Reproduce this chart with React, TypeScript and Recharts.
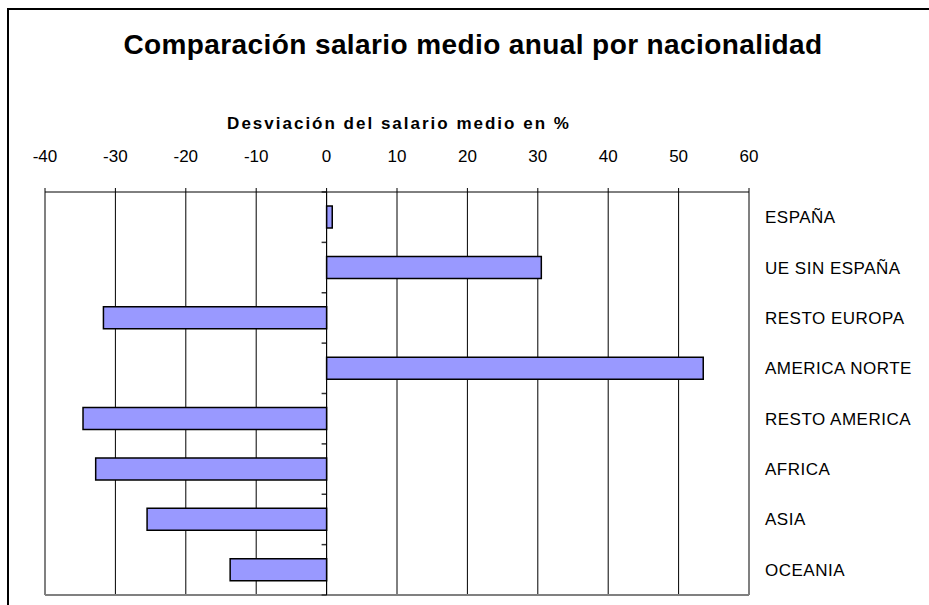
import React from 'react';
import { BarChart, Bar, XAxis, YAxis, CartesianGrid, ReferenceLine, usePlotArea, useXAxisScale } from 'recharts';

const categories = ['ESPAÑA', 'UE SIN ESPAÑA', 'RESTO EUROPA', 'AMERICA NORTE', 'RESTO AMERICA', 'AFRICA', 'ASIA', 'OCEANIA'];
const deviation = [0.8, 30.5, -31.7, 53.5, -34.6, -32.8, -25.5, -13.7];
const xTicks = [-40, -30, -20, -10, 0, 10, 20, 30, 40, 50, 60];

const title = 'Comparación salario medio anual por nacionalidad';
const axisTitle = 'Desviación del salario medio en %';

const data = categories.map((c, i) => ({ name: c, value: deviation[i] }));

const FONT = '"Liberation Sans", Arial, sans-serif';

const CatTick = (props: any) => {
  const { x, y, payload } = props;
  return (
    <text x={x} y={y} dy="0.355em" textAnchor="start" fontFamily={FONT} fontSize={17} fill="#000" letterSpacing={0.5}>
      {payload.value}
    </text>
  );
};

// Plot frame (left, right, bottom in grey) and the category-boundary tick marks on the zero axis
const FrameAndTicks = () => {
  const plot = usePlotArea();
  const xScale = useXAxisScale('x');
  if (!plot || !xScale) return null;
  const x0 = xScale(0);
  const band = plot.height / categories.length;
  const bounds = Array.from({ length: categories.length + 1 }, (_, i) => plot.y + i * band);
  const left = plot.x;
  const right = plot.x + plot.width;
  const bottom = plot.y + plot.height;
  return (
    <g>
      <line x1={left} y1={plot.y} x2={left} y2={bottom} stroke="#808080" strokeWidth={2} />
      <line x1={right} y1={plot.y} x2={right} y2={bottom} stroke="#808080" strokeWidth={2} />
      <line x1={left} y1={bottom} x2={right} y2={bottom} stroke="#808080" strokeWidth={2} />
      {bounds.map((b, i) => (
        <line key={i} x1={x0 - 5} y1={b} x2={x0} y2={b} stroke="#333" strokeWidth={1.5} />
      ))}
    </g>
  );
};

export default function App() {
  return (
    <div
      style={{
        position: 'fixed',
        left: 7,
        top: 8,
        width: 940,
        height: 620,
        borderLeft: '2px solid #000',
        borderTop: '2px solid #000',
        background: '#fff',
        overflow: 'hidden',
      }}
    >
      <BarChart
        width={920}
        height={595}
        data={data}
        layout="vertical"
        margin={{ top: 0, left: 36, right: 0, bottom: 10 }}
        barSize={22}
      >
        <CartesianGrid horizontal={false} vertical={true} stroke="#000" strokeWidth={1} xAxisId="x" yAxisId="cat" />
        <XAxis
          xAxisId="x"
          type="number"
          orientation="top"
          domain={[-40, 60]}
          ticks={xTicks}
          interval={0}
          height={182}
          axisLine={{ stroke: '#000', strokeWidth: 1 }}
          tickLine={{ stroke: '#000' }}
          tickSize={4}
          tickMargin={26}
          tick={{ fill: '#000', fontSize: 17, fontFamily: FONT }}
          allowDataOverflow
        />
        <YAxis
          yAxisId="cat"
          type="category"
          dataKey="name"
          orientation="right"
          width={180}
          axisLine={false}
          tickLine={false}
          tickSize={0}
          tickMargin={16}
          interval={0}
          tick={<CatTick />}
        />
        <ReferenceLine xAxisId="x" yAxisId="cat" x={0} stroke="#000" strokeWidth={1} ifOverflow="visible" />
        <FrameAndTicks />
        <Bar
          xAxisId="x"
          yAxisId="cat"
          dataKey="value"
          fill="#9999FF"
          stroke="#000"
          strokeWidth={1.5}
          isAnimationActive={false}
        />
      </BarChart>
      <svg width={920} height={180} style={{ position: 'absolute', left: 0, top: 0, pointerEvents: 'none' }}>
        <text x={464} y={44} textAnchor="middle" fontFamily={FONT} fontWeight="bold" fontSize={28} letterSpacing={0.4} fill="#000">
          {title}
        </text>
        <text x={390} y={119} textAnchor="middle" fontFamily={FONT} fontWeight="bold" fontSize={17} letterSpacing={2} fill="#000">
          {axisTitle}
        </text>
      </svg>
    </div>
  );
}
